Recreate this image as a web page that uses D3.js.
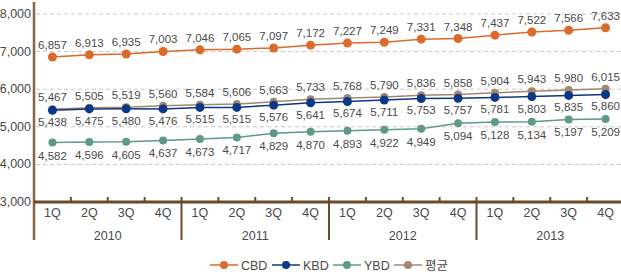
<!DOCTYPE html>
<html>
<head>
<meta charset="utf-8">
<script src="https://cdn.jsdelivr.net/npm/d3@7"></script>
<style>
    body { margin: 0; background: #fff; }
    svg text { font-family: 'Liberation Sans Narrow', 'Liberation Sans', Arial, sans-serif; fill: #4a4a4a; }
    .grid line { stroke: #c8c8c8; stroke-dasharray: 4,3; }
    .legend text.kr { font-family: 'Noto Sans CJK KR', sans-serif; }
</style>
</head>
<body>
<svg id="chart"></svg>
<script>
const years = ['2010', '2011', '2012', '2013'];
const quarters = ['1Q', '2Q', '3Q', '4Q'];
const yTicks = [3000, 4000, 5000, 6000, 7000, 8000];

const cbd = [6857, 6913, 6935, 7003, 7046, 7065, 7097, 7172, 7227, 7249, 7331, 7348, 7437, 7522, 7566, 7633];
const kbd = [5438, 5475, 5480, 5476, 5515, 5515, 5576, 5641, 5674, 5711, 5753, 5757, 5781, 5803, 5835, 5860];
const ybd = [4582, 4596, 4605, 4637, 4673, 4717, 4829, 4870, 4893, 4922, 4949, 5094, 5128, 5134, 5197, 5209];
const avg = [5467, 5505, 5519, 5560, 5584, 5606, 5663, 5733, 5768, 5790, 5836, 5858, 5904, 5943, 5980, 6015];

const width = 621, height = 276;
const plotLeft = 34, plotRight = 624, plotTop = 14, plotBottom = 202;

const keys = years.flatMap(y => quarters.map(q => y + '-' + q));

const svg = d3.select('#chart')
    .attr('width', width)
    .attr('height', height);

const x = d3.scaleBand().domain(keys).range([plotLeft, plotRight]);
const xYear = d3.scaleBand().domain(years).range([plotLeft, plotRight]);
const y = d3.scaleLinear().domain([3000, 8000]).range([plotBottom, plotTop]);
const fmt = d3.format(',');

// grid
svg.append('g')
    .attr('class', 'grid')
    .selectAll('line')
    .data(yTicks.slice(1))
    .enter().append('line')
    .attr('x1', plotLeft + 2)
    .attr('x2', width)
    .attr('y1', d => y(d))
    .attr('y2', d => y(d));

// y labels
svg.append('g')
    .selectAll('text')
    .data(yTicks)
    .enter().append('text')
    .attr('x', plotLeft - 3)
    .attr('y', d => y(d) + 4)
    .attr('text-anchor', 'end')
    .style('font-size', '12.5px')
    .text(fmt);

// axes
const axisColor = '#6b4a2c';
svg.append('line')
    .attr('x1', plotLeft).attr('x2', plotLeft)
    .attr('y1', 2).attr('y2', 240)
    .style('stroke', '#8a6444')
    .style('stroke-width', 2.5);

svg.append('line')
    .attr('x1', plotLeft).attr('x2', width)
    .attr('y1', plotBottom).attr('y2', plotBottom)
    .style('stroke', axisColor)
    .style('stroke-width', 3);

// quarter ticks
svg.append('g')
    .selectAll('line')
    .data(keys.filter((k, i) => i % 4 !== 0))
    .enter().append('line')
    .attr('x1', d => x(d)).attr('x2', d => x(d))
    .attr('y1', plotBottom - 5).attr('y2', plotBottom)
    .style('stroke', axisColor)
    .style('stroke-width', 2);

// year separators
svg.append('g')
    .selectAll('line')
    .data(years.slice(1))
    .enter().append('line')
    .attr('x1', d => xYear(d)).attr('x2', d => xYear(d))
    .attr('y1', plotBottom - 5).attr('y2', 240)
    .style('stroke', axisColor)
    .style('stroke-width', 2);

// quarter labels
svg.append('g')
    .selectAll('text')
    .data(keys)
    .enter().append('text')
    .attr('x', d => x(d) + x.bandwidth() / 2)
    .attr('y', 217)
    .attr('text-anchor', 'middle')
    .style('font-size', '12.5px')
    .text(d => d.split('-')[1]);

// year labels
svg.append('g')
    .selectAll('text')
    .data(years)
    .enter().append('text')
    .attr('x', d => xYear(d) + xYear.bandwidth() / 2)
    .attr('y', 240)
    .attr('text-anchor', 'middle')
    .style('font-size', '12.5px')
    .text(d => d);

// series
const series = [
    { name: '평균', values: avg, color: '#a3866f', r: 4, dy: -8 },
    { name: 'YBD', values: ybd, color: '#5f9a82', r: 4, dy: 17 },
    { name: 'KBD', values: kbd, color: '#0b3887', r: 4.5, dy: 16 },
    { name: 'CBD', values: cbd, color: '#dc6a2a', r: 4.5, dy: -8 }
];

const cx = i => x(keys[i]) + x.bandwidth() / 2;
const line = d3.line()
    .x((d, i) => cx(i))
    .y(d => y(d));

series.forEach(s => {
    const g = svg.append('g');
    g.append('path')
        .datum(s.values)
        .attr('d', line)
        .style('fill', 'none')
        .style('stroke', s.color)
        .style('stroke-width', 1.5);
    g.selectAll('circle')
        .data(s.values)
        .enter().append('circle')
        .attr('cx', (d, i) => cx(i))
        .attr('cy', d => y(d))
        .attr('r', s.r)
        .style('fill', s.color);
    g.selectAll('text')
        .data(s.values)
        .enter().append('text')
        .attr('x', (d, i) => cx(i))
        .attr('y', d => y(d) + s.dy)
        .attr('text-anchor', 'middle')
        .style('font-size', '11.5px')
        .text(fmt);
});

// legend
const legendItems = [
    { name: 'CBD', color: '#dc6a2a', x: 210 },
    { name: 'KBD', color: '#0b3887', x: 272 },
    { name: 'YBD', color: '#5f9a82', x: 333 },
    { name: '평균', color: '#a3866f', x: 394 }
];
const legend = svg.append('g').attr('class', 'legend');
legendItems.forEach(l => {
    const g = legend.append('g').attr('transform', `translate(${l.x},265)`);
    g.append('line')
        .attr('x1', 0).attr('x2', 28)
        .style('stroke', l.color)
        .style('stroke-width', 1.5);
    g.append('circle')
        .attr('cx', 14)
        .attr('r', 4)
        .style('fill', l.color);
    g.append('text')
        .attr('class', l.name === '평균' ? 'kr' : null)
        .attr('x', 31)
        .attr('y', 4.5)
        .style('font-size', '12.5px')
        .text(l.name);
});
</script>
</body>
</html>
